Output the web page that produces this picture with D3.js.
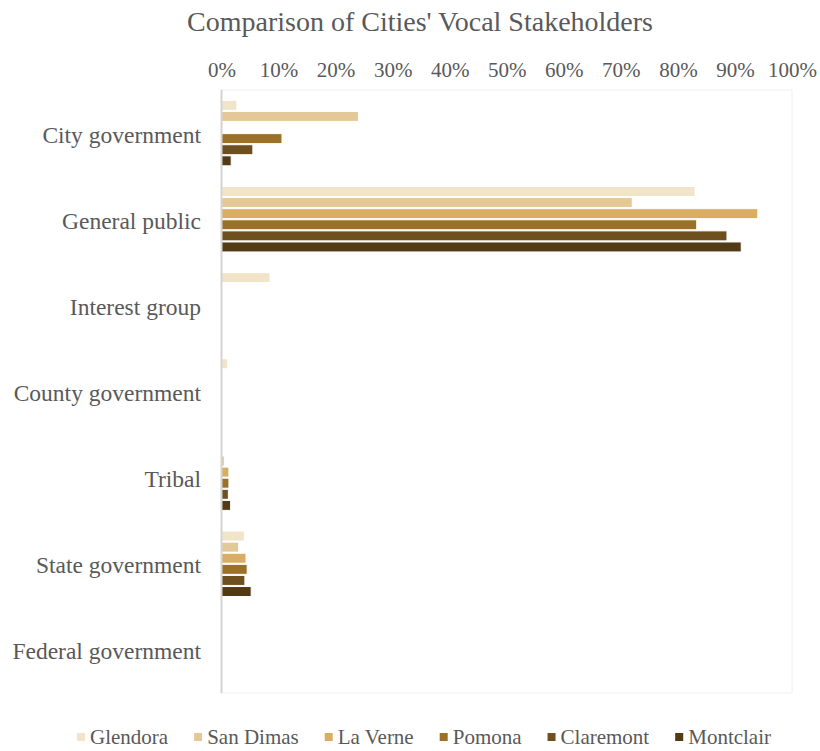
<!DOCTYPE html>
<html>
<head>
<meta charset="utf-8">
<script src="https://cdn.jsdelivr.net/npm/d3@7"></script>
<style>
body { margin: 0; background: #fff; }
svg { display: block; }
svg text { font-family: "Liberation Serif", "Times New Roman", serif !important; }
</style>
</head>
<body>
<svg id="chart" width="820" height="751"></svg>
<script>
const categories = ["City government", "General public", "Interest group", "County government", "Tribal", "State government", "Federal government"];
const cities = ["Glendora", "San Dimas", "La Verne", "Pomona", "Claremont", "Montclair"];
const colors = ["#F2E4C8", "#E5C898", "#D9AE63", "#9B7028", "#6E4F1E", "#523A14"];
// values in %, per city, in category order
const glendora  = [2.7, 83.0, 8.5, 1.1, 0, 4.0, 0];
const sanDimas  = [24.0, 72.0, 0, 0, 0.5, 3.0, 0];
const laVerne   = [0.2, 94.0, 0, 0, 1.3, 4.3, 0];
const pomona    = [10.6, 83.3, 0, 0, 1.3, 4.5, 0];
const claremont = [5.5, 88.6, 0, 0, 1.2, 4.1, 0];
const montclair = [1.7, 91.1, 0, 0, 1.6, 5.2, 0];
const tickValues = [0, 10, 20, 30, 40, 50, 60, 70, 80, 90, 100];

const seriesValues = [glendora, sanDimas, laVerne, pomona, claremont, montclair];

const svg = d3.select("#chart");
const pLeft = 221.5, pRight = 792, pTop = 90, pBottom = 693;
const textColor = "#595959";

const x = d3.scaleLinear().domain([0, 100]).range([pLeft, pRight]);
const y = d3.scaleBand().domain(categories).range([pTop, pBottom]).paddingInner(0.24).paddingOuter(0.12);
const ySub = d3.scaleBand().domain(cities).range([0, y.bandwidth()]).paddingInner(0.1);
const color = d3.scaleOrdinal().domain(cities).range(colors);

// Title
svg.append("text")
  .attr("x", 420).attr("y", 31)
  .attr("text-anchor", "middle")
  .attr("font-size", 28)
  .attr("fill", textColor)
  .text("Comparison of Cities' Vocal Stakeholders");

// plot area border
svg.append("rect")
  .attr("x", pLeft).attr("y", pTop)
  .attr("width", pRight - pLeft).attr("height", pBottom - pTop)
  .attr("fill", "none").attr("stroke", "#f0f0f0").attr("stroke-width", 1);

// Top axis labels
const xAxis = d3.axisTop(x).tickValues(tickValues).tickFormat(d => d + "%").tickSize(0).tickPadding(0);
const gx = svg.append("g").attr("transform", `translate(0, 77)`).call(xAxis);
gx.select(".domain").remove();
gx.selectAll("text")
  .attr("font-size", 21)
  .attr("fill", textColor)
  .attr("dy", 0);

// Bars
const data = [];
categories.forEach((c, i) => {
  cities.forEach((s, j) => {
    data.push({ cat: c, city: s, value: seriesValues[j][i] });
  });
});

svg.append("g").selectAll("rect")
  .data(data.filter(d => d.value > 0))
  .join("rect")
  .attr("x", x(0))
  .attr("y", d => y(d.cat) + ySub(d.city))
  .attr("width", d => x(d.value) - x(0))
  .attr("height", ySub.bandwidth())
  .attr("fill", d => color(d.city))
  .attr("stroke", "#ffffff")
  .attr("stroke-width", 1);

// Left axis line
svg.append("line")
  .attr("x1", pLeft).attr("x2", pLeft)
  .attr("y1", pTop).attr("y2", pBottom)
  .attr("stroke", "#d4d4d4").attr("stroke-width", 2);

// Category labels
const yAxis = d3.axisLeft(y).tickSize(0).tickPadding(0);
const gy = svg.append("g").attr("transform", `translate(201, 2)`).call(yAxis);
gy.select(".domain").remove();
gy.selectAll("text")
  .attr("font-size", 23.5)
  .attr("fill", textColor);

// Legend
const legend = svg.append("g");
const items = legend.selectAll("g").data(cities).join("g");
items.append("rect")
  .attr("width", 8).attr("height", 8)
  .attr("y", -4)
  .attr("fill", d => color(d));
items.append("text")
  .attr("x", 13).attr("y", 0)
  .attr("dy", "0.35em")
  .attr("font-size", 21)
  .attr("fill", textColor)
  .text(d => d);
const widths = [];
items.each(function() {
  const w = d3.select(this).select("text").node().getComputedTextLength() + 13;
  widths.push(w);
});
const gap = 26;
const total = d3.sum(widths) + gap * (widths.length - 1);
let cx = 424 - total / 2;
items.attr("transform", (d, i) => {
  const t = `translate(${cx}, 737)`;
  cx += widths[i] + gap;
  return t;
});
</script>
</body>
</html>
